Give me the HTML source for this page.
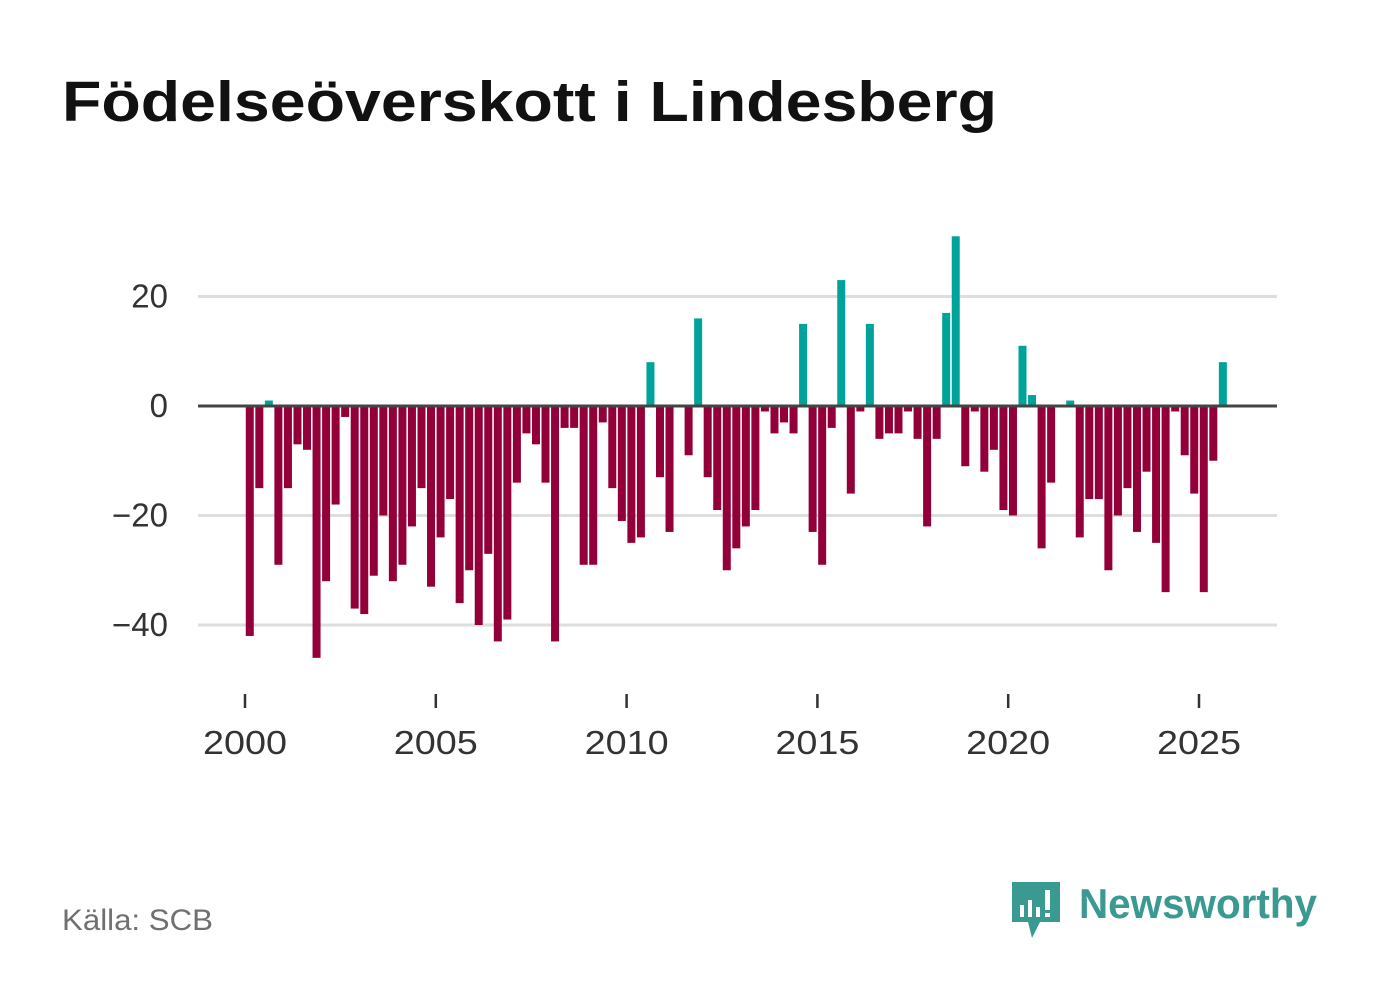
<!DOCTYPE html>
<html><head><meta charset="utf-8"><style>
body{margin:0;background:#fff;width:1382px;height:999px;overflow:hidden;font-family:"Liberation Sans","DejaVu Sans",sans-serif}
</style></head><body>
<svg width="1382" height="999">
<text x="62" y="121" font-size="57" font-weight="bold" fill="#111" textLength="935" lengthAdjust="spacingAndGlyphs">Födelseöverskott i Lindesberg</text>
<g id="grid"></g><g id="bars"></g><g id="xaxis"></g>
<text x="62" y="930" font-size="30" fill="#707070" textLength="151" lengthAdjust="spacingAndGlyphs">Källa: SCB</text>
<g>
<path d="M1012 882 h48 v40 h-20 l-8 16 l-4 -16 h-16 z" fill="#3a9a92"/>
<rect x="1020" y="905" width="4" height="12" fill="#fff"/><rect x="1028" y="900" width="4" height="17" fill="#fff"/><rect x="1036" y="907" width="4" height="10" fill="#fff"/><rect x="1045" y="890" width="5" height="20" fill="#fff"/><rect x="1045" y="913" width="5" height="4" fill="#fff"/>
<text x="1079" y="918" font-size="42" font-weight="bold" fill="#3a9a92" textLength="238" lengthAdjust="spacingAndGlyphs">Newsworthy</text>
</g>
</svg>
<script>
const values=[-42,-15,1,-29,-15,-7,-8,-46,-32,-18,-2,-37,-38,-31,-20,-32,-29,-22,-15,-33,-24,-17,-36,-30,-40,-27,-43,-39,-14,-5,-7,-14,-43,-4,-4,-29,-29,-3,-15,-21,-25,-24,8,-13,-23,0,-9,16,-13,-19,-30,-26,-22,-19,-1,-5,-3,-5,15,-23,-29,-4,23,-16,-1,15,-6,-5,-5,-1,-6,-22,-6,17,31,-11,-1,-12,-8,-19,-20,11,2,-26,-14,0,1,-24,-17,-17,-30,-20,-15,-23,-12,-25,-34,-1,-9,-16,-34,-10,8];
const startYear=2000;
const yTicks=[20,0,-20,-40];
const xTicks=[2000,2005,2010,2015,2020,2025];
const NS='http://www.w3.org/2000/svg';
const X=y=>245+(y-2000)*38.16;
const Y=v=>406-v*5.475;
const g=document.getElementById('grid'),b=document.getElementById('bars'),xa=document.getElementById('xaxis');
function mk(t,a,p){const e=document.createElementNS(NS,t);for(const k in a)e.setAttribute(k,a[k]);p.appendChild(e);return e;}
yTicks.forEach(v=>{
 if(v!==0){const l=mk('line',{x1:198,x2:1277,y1:Y(v),y2:Y(v),stroke:'#dedede','stroke-width':3},g);
 
 }
 const t=mk('text',{x:168,y:Y(v)+11,'font-size':33,fill:'#333','text-anchor':'end'},g);
 t.textContent=v<0?'\u2212'+(-v):String(v);
 
 
});
values.forEach((v,i)=>{
 const cx=X(startYear+(i+0.5)/4);
 const r=mk('rect',{x:cx-4,y:Math.min(Y(v),Y(0)),width:8,height:Math.abs(Y(v)-Y(0)),fill:v>=0?'#00a39a':'#930039'},b);
 
 
});
const z=mk('line',{x1:198,x2:1277,y1:Y(0),y2:Y(0),stroke:'#444','stroke-width':3},b);


xTicks.forEach(yr=>{
 const l=mk('line',{x1:X(yr),x2:X(yr),y1:694,y2:708,stroke:'#333','stroke-width':2.5},xa);
 
 
 const t=mk('text',{x:X(yr),y:754,'font-size':33,fill:'#333','text-anchor':'middle',textLength:84,lengthAdjust:'spacingAndGlyphs'},xa);
 t.textContent=yr;
 
 
});
</script>
</body></html>
